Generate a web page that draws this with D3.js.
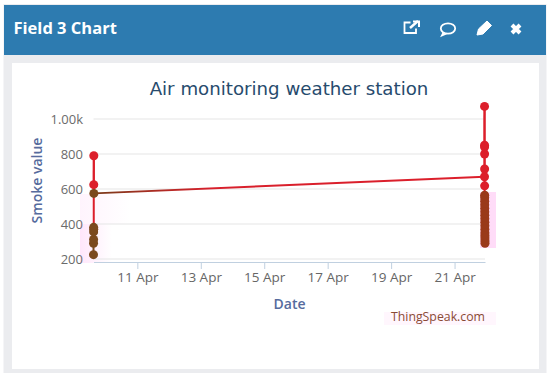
<!DOCTYPE html>
<html>
<head>
<meta charset="utf-8">
<script src="https://cdn.jsdelivr.net/npm/d3@7"></script>
<style>
html, body { margin: 0; padding: 0; background: #fff; }
svg { display: block; }
</style>
</head>
<body>
<svg id="chart" width="550" height="377"></svg>
<script>
let readingDates = [
    "2019-04-09T14:50", "2019-04-09T14:52", "2019-04-09T14:54", "2019-04-09T14:56", "2019-04-09T14:58",
    "2019-04-09T15:00", "2019-04-09T15:02", "2019-04-09T15:04", "2019-04-09T15:06",
    "2019-04-21T22:40", "2019-04-21T22:41", "2019-04-21T22:42", "2019-04-21T22:43", "2019-04-21T22:44",
    "2019-04-21T22:45", "2019-04-21T22:46", "2019-04-21T22:47", "2019-04-21T22:48", "2019-04-21T22:49",
    "2019-04-21T22:50", "2019-04-21T22:51", "2019-04-21T22:52", "2019-04-21T22:53", "2019-04-21T22:54",
    "2019-04-21T22:55", "2019-04-21T22:56", "2019-04-21T22:57", "2019-04-21T22:58", "2019-04-21T22:59",
    "2019-04-21T23:00", "2019-04-21T23:01", "2019-04-21T23:02"
];
let smokeValues = [
    225, 290, 312, 355, 381, 370, 625, 790, 575,
    670, 1072, 850, 840, 800, 714, 618, 565, 550, 530,
    510, 490, 470, 450, 430, 410, 390, 370, 350, 335,
    320, 305, 290
];
let yTicks = [200, 400, 600, 800, 1000];
let xTickDates = ["2019-04-11", "2019-04-13", "2019-04-15", "2019-04-17", "2019-04-19", "2019-04-21"];

let parseDate = d3.isoParse;
let splitDate = parseDate("2019-04-15");
let threshold = 580;

let svg = d3.select("#chart");

// page card
svg.append("rect").attr("x", 3.5).attr("y", 4).attr("width", 543).attr("height", 369).attr("fill", "#ebecef");
svg.append("rect").attr("x", 4).attr("y", 5).attr("width", 542).attr("height", 50).attr("fill", "#2d7bb0");
svg.append("rect").attr("x", 12).attr("y", 63).attr("width", 527).attr("height", 306).attr("fill", "#fff");

svg.append("text")
    .attr("x", 13.5).attr("y", 34)
    .attr("font-family", "Open Sans").attr("font-weight", 700).attr("font-size", 16.5)
    .attr("fill", "#fff")
    .text("Field 3 Chart");

// header icons
let icons = svg.append("g").attr("fill", "none").attr("stroke", "#fff").attr("stroke-width", 1.8);
icons.append("path").attr("d", "M416 28.5v4.5h-11.5v-10.5h6");
icons.append("path").attr("d", "M410 28l8-7").attr("stroke-width", 2.4);
icons.append("path").attr("d", "M413 21.5h6v5.5").attr("stroke-width", 2);
icons.append("ellipse").attr("cx", 448).attr("cy", 28.5).attr("rx", 7.2).attr("ry", 5.2);
icons.append("path").attr("d", "M443.5 32.5l-1.5 3 4.5-2");
icons.append("path").attr("d", "M477 35l1.5-6 8.5-8 4.5 4.5-8.5 8.5z").attr("fill", "#fff").attr("stroke-width", 1);
icons.append("path").attr("d", "M512 25l8 8M520 25l-8 8").attr("stroke-width", 4);

// the faint pink tint around the lower readings
let defs = svg.append("defs");
let tint = defs.append("linearGradient").attr("id", "leftTint");
tint.append("stop").attr("offset", 0).attr("stop-color", "#ffe6fb");
tint.append("stop").attr("offset", 1).attr("stop-color", "#fff");
let lineFade = defs.append("linearGradient").attr("id", "lineFade")
    .attr("gradientUnits", "userSpaceOnUse")
    .attr("x1", 94).attr("y1", 0).attr("x2", 485).attr("y2", 0);
lineFade.append("stop").attr("offset", 0).attr("stop-color", "#7a3a1a");
lineFade.append("stop").attr("offset", 0.3).attr("stop-color", "#d8202c");
lineFade.append("stop").attr("offset", 1).attr("stop-color", "#dc1f2b");

svg.append("rect").attr("x", 80).attr("y", 224).attr("width", 32).attr("height", 39).attr("fill", "url(#leftTint)");
svg.append("rect").attr("x", 80).attr("y", 194).attr("width", 50).attr("height", 30).attr("fill", "url(#leftTint)").attr("opacity", 0.45);
svg.append("rect").attr("x", 480).attr("y", 192).attr("width", 16).attr("height", 56).attr("fill", "#ffdcf8");
svg.append("rect").attr("x", 384).attr("y", 312).attr("width", 112).attr("height", 13).attr("fill", "#fff6fd");

let xScale = d3.scaleTime()
    .domain([parseDate(readingDates[0]), parseDate(readingDates[readingDates.length - 1])])
    .range([93.5, 485]);

let yScale = d3.scaleLinear()
    .domain([200, 1000])
    .range([259, 119]);

// gridlines
svg.selectAll(".grid")
    .data(yTicks)
    .enter()
    .append("line")
    .attr("x1", 93.5)
    .attr("x2", 485)
    .attr("y1", function(d) { return yScale(d); })
    .attr("y2", function(d) { return yScale(d); })
    .attr("stroke", "#e6e6e6")
    .attr("stroke-width", 1.2);

// y axis
let yAxis = svg.append("g")
    .attr("transform", "translate(83, 0)")
    .call(d3.axisLeft(yScale).tickValues(yTicks).tickSize(0).tickFormat(function(d) {
        return d >= 1000 ? (d / 1000).toFixed(2) + "k" : d;
    }));
yAxis.select(".domain").remove();
yAxis.selectAll("text")
    .attr("x", 0)
    .style("font-family", "Open Sans")
    .style("font-size", 13)
    .style("fill", "#6b6b6b");

// x axis
let xAxis = svg.append("g")
    .attr("transform", "translate(0, 262)")
    .call(d3.axisBottom(xScale).tickValues(xTickDates.map(parseDate)).tickSize(7).tickSizeOuter(0)
        .tickFormat(d3.timeFormat("%d Apr")));
xAxis.select(".domain").attr("stroke", "#c0d0e0").attr("stroke-width", 1.2);
xAxis.selectAll("line").attr("stroke", "#c0d0e0");
xAxis.selectAll("text")
    .attr("y", 10)
    .style("font-family", "Open Sans")
    .style("font-size", 13.5)
    .style("fill", "#666");

// axis titles and chart title
svg.append("text")
    .attr("x", 289).attr("y", 95)
    .attr("text-anchor", "middle")
    .attr("font-family", "DejaVu Sans").attr("font-size", 18.2)
    .attr("fill", "#274b6d")
    .text("Air monitoring weather station");

svg.append("text")
    .attr("x", 289.5).attr("y", 309)
    .attr("text-anchor", "middle")
    .attr("font-family", "Open Sans").attr("font-weight", 600).attr("font-size", 14)
    .attr("fill", "#566b9d")
    .text("Date");

svg.append("text")
    .attr("transform", "translate(42, 180.5) rotate(-90)")
    .attr("text-anchor", "middle")
    .attr("font-family", "Open Sans").attr("font-weight", 600).attr("font-size", 14)
    .attr("fill", "#566b9d")
    .text("Smoke value");

svg.append("text")
    .attr("x", 485).attr("y", 321)
    .attr("text-anchor", "end")
    .attr("font-family", "Open Sans").attr("font-size", 12.3)
    .attr("fill", "#8a4a34")
    .text("ThingSpeak.com");

// colour of a reading, the two clusters have a slightly different brown
function pointColor(i) {
    if (smokeValues[i] >= threshold) return "#dc1f2b";
    return parseDate(readingDates[i]) < splitDate ? "#7b4a1e" : "#9a3a1a";
}

// line, one segment per pair of readings
let segments = d3.range(readingDates.length - 1);
svg.selectAll(".segment")
    .data(segments)
    .enter()
    .append("line")
    .attr("x1", function(i) { return xScale(parseDate(readingDates[i])); })
    .attr("x2", function(i) { return xScale(parseDate(readingDates[i + 1])); })
    .attr("y1", function(i) { return yScale(smokeValues[i]); })
    .attr("y2", function(i) { return yScale(smokeValues[i + 1]); })
    .attr("stroke", function(i) {
        let a = parseDate(readingDates[i]) < splitDate;
        let b = parseDate(readingDates[i + 1]) < splitDate;
        if (a !== b) return "url(#lineFade)";
        return smokeValues[i] < threshold && smokeValues[i + 1] < threshold ? pointColor(i) : "#dc1f2b";
    })
    .attr("stroke-width", 2);

// readings
svg.selectAll(".reading")
    .data(d3.range(readingDates.length))
    .enter()
    .append("circle")
    .attr("cx", function(i) { return xScale(parseDate(readingDates[i])); })
    .attr("cy", function(i) { return yScale(smokeValues[i]); })
    .attr("r", 4.5)
    .style("fill", pointColor);
</script>
</body>
</html>
